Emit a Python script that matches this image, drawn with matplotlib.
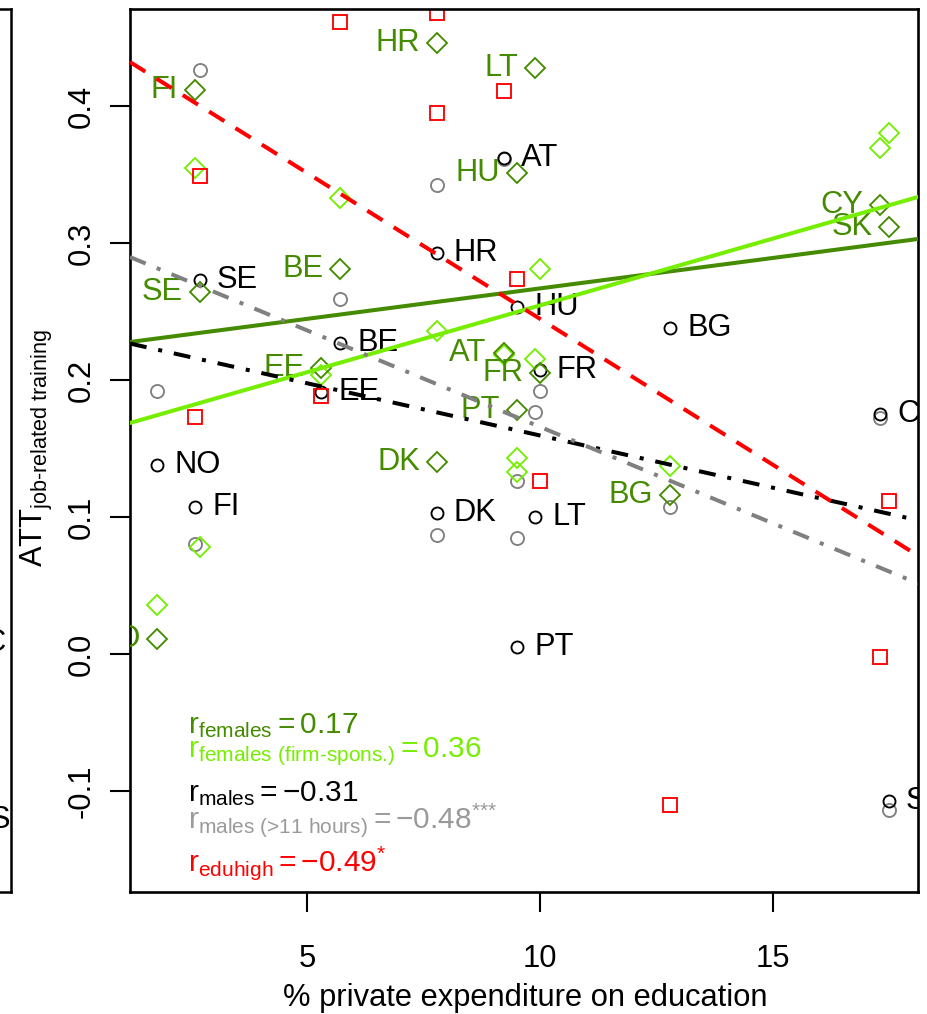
import numpy as np
import matplotlib
matplotlib.use('Agg')
import matplotlib.pyplot as plt
from matplotlib.transforms import ScaledTranslation

plt.rcParams['font.family'] = ['Liberation Sans', 'DejaVu Sans']
plt.rcParams['mathtext.fontset'] = 'custom'
plt.rcParams['mathtext.rm'] = 'Liberation Sans'
plt.rcParams['mathtext.it'] = 'Liberation Sans:italic'
plt.rcParams['mathtext.bf'] = 'Liberation Sans:bold'
plt.rcParams['mathtext.sf'] = 'Liberation Sans'
plt.rcParams['lines.scale_dashes'] = False

# ---------------- data ----------------
countries = ['AT', 'BE', 'BG', 'CY', 'DK', 'EE', 'FI', 'FR', 'HR', 'HU', 'LT', 'NO', 'PT', 'SE', 'SK']
priv_exp = [9.22, 5.71, 12.79, 17.30, 7.79, 5.31, 2.60, 10.00, 7.79, 9.51, 9.90, 1.79, 9.51, 2.70, 17.49]

att_females      = [0.220, 0.281, 0.116, 0.328, 0.140, 0.209, 0.412, 0.205, 0.446, 0.351, 0.428, 0.011, 0.178, 0.264, 0.312]
att_females_firm = [0.218, 0.333, 0.137, 0.369, np.nan, 0.204, 0.355, 0.281, 0.236, 0.143, 0.215, 0.036, 0.133, 0.078, 0.380]
att_males        = [0.362, 0.227, 0.238, 0.175, 0.103, 0.191, 0.107, 0.207, 0.293, 0.253, 0.100, 0.138, 0.005, 0.273, -0.107]
att_males_11h    = [0.361, 0.259, 0.107, 0.172, 0.087, np.nan, 0.080, 0.192, 0.342, 0.126, 0.177, 0.192, 0.085, 0.426, -0.114]
att_eduhigh      = [0.411, 0.461, -0.110, -0.002, 0.395, 0.188, 0.173, 0.126, 0.468, 0.274, np.nan, np.nan, np.nan, 0.349, 0.112]

# regression lines (intercept, slope)
fit_names      = ['females', 'females_firm', 'males', 'males_11h', 'eduhigh']
fit_intercepts = [0.2224, 0.1569, 0.2358, 0.3067, 0.4577]
fit_slopes     = [0.004447, 0.009757, -0.00763, -0.01409, -0.02131]

corr_texts = [r'$\mathrm{r}_{\mathrm{females}}=0.17$',
              r'$\mathrm{r}_{\text{females (firm-spons.)}}=0.36$',
              r'$\mathrm{r}_{\mathrm{males}}=-0.31$',
              r'$\mathrm{r}_{\text{males (>11 hours)}}=-0.48^{\text{***}}$',
              r'$\mathrm{r}_{\mathrm{eduhigh}}=-0.49^{\text{*}}$']
corr_y = [-0.0577, -0.0752, -0.1073, -0.1270, -0.1584]
corr_x = 2.446

x_ticks = [5, 10, 15]
y_ticks = [-0.1, 0.0, 0.1, 0.2, 0.3, 0.4]
y_ticklabels = ['-0.1', '0.0', '0.1', '0.2', '0.3', '0.4']

# ---------------- style ----------------
DKGREEN = '#458B00'
LTGREEN = '#76EE00'
GRAY = '#808080'
LTGRAY = '#9A9A9A'
RED = '#FF0000'
FS = 22.2
FS_CORR = 21.5

W, H = 927, 1014
fig = plt.figure(figsize=(W / 100, H / 100), dpi=100)

# partial neighbouring panel at the left edge (cropped)
ax0 = fig.add_axes([-300 / W, 1 - 892 / H, 311 / W, 883 / H])
ax0.set_xticks([]); ax0.set_yticks([])
for s in ax0.spines.values():
    s.set_linewidth(1.8)
ax0.text((6 + 300) / 311, (892 - 643) / 883, 'C', transform=ax0.transAxes,
         ha='right', va='center', fontsize=FS, color='black')
ax0.text((10 + 300) / 311, (892 - 820) / 883, 'S', transform=ax0.transAxes,
         ha='right', va='center', fontsize=FS, color='black')

ax = fig.add_axes([130 / W, 1 - 892 / H, 788 / W, 883 / H])
ax.set_xlim(1.202, 18.11)
ax.set_ylim(-0.1737, 0.4708)

x = np.array(priv_exp)
ms_c, ms_s, ms_d, mew = 9.4, 9.4, 10.2, 1.35
ax.plot(x, att_males_11h, 'o', ms=ms_c, mfc='none', mec=GRAY, mew=mew, zorder=2)
ax.plot(x, att_males, 'o', ms=ms_c * 0.92, mfc='none', mec='black', mew=mew, zorder=2.1)
ax.plot(x, att_females_firm, 'D', ms=ms_d, mfc='none', mec=LTGREEN, mew=mew, zorder=2.2)
ax.plot(x, att_females, 'D', ms=ms_d, mfc='none', mec=DKGREEN, mew=mew, zorder=2.3)
ax.plot(x, att_eduhigh, 's', ms=ms_s, mfc='none', mec=RED, mew=mew, zorder=2.4)

off = 12.2 / 72
right_tr = ax.transData + ScaledTranslation(off, 0, fig.dpi_scale_trans)
left_tr = ax.transData + ScaledTranslation(-off, 0, fig.dpi_scale_trans)
for c, xv, ym, yf in zip(countries, priv_exp, att_males, att_females):
    t = ax.text(xv, ym, c, transform=right_tr, ha='left', va='center',
                fontsize=FS, color='black', zorder=3)
    t.set_clip_on(True); t.set_clip_box(ax.bbox)
    t = ax.text(xv, yf, c, transform=left_tr, ha='right', va='center',
                fontsize=FS, color=DKGREEN, zorder=3)
    t.set_clip_on(True); t.set_clip_box(ax.bbox)

# regression lines
line_styles = {
    'females': dict(color=DKGREEN, ls='-'),
    'females_firm': dict(color=LTGREEN, ls='-'),
    'males': dict(color='black', ls=(0, (12.2, 8.6, 2.9, 8.6))),
    'males_11h': dict(color=GRAY, ls=(0, (12.2, 8.6, 2.9, 8.6))),
    'eduhigh': dict(color=RED, ls=(0, (13, 9.4))),
}
for name, a, b in zip(fit_names, fit_intercepts, fit_slopes):
    ax.axline((0, a), slope=b, lw=2.9, zorder=4, **line_styles[name])

corr_colors = [DKGREEN, LTGREEN, 'black', LTGRAY, RED]
for s, yv, col in zip(corr_texts, corr_y, corr_colors):
    ax.text(corr_x, yv, s, ha='left', va='baseline', fontsize=FS_CORR, color=col, zorder=5)

ax.set_xticks(x_ticks)
ax.set_xticklabels([str(v) for v in x_ticks], fontsize=FS)
ax.set_yticks(y_ticks)
ax.set_yticklabels(y_ticklabels, fontsize=FS, rotation=90, va='center')
ax.tick_params(axis='both', direction='out', length=14.4, width=1.5, color='black')
ax.tick_params(axis='x', pad=23)
ax.tick_params(axis='y', pad=9.5)
for s in ax.spines.values():
    s.set_linewidth(1.9)

fig.text(525 / W, 1 - 998 / H, '% private expenditure on education', ha='center', va='center',
         fontsize=FS)
fig.text(37 / W, 1 - 448 / H, r'ATT$_{\text{job-related training}}$', rotation=90,
         ha='center', va='center', fontsize=FS)

fig.savefig('out.png', dpi=100)
